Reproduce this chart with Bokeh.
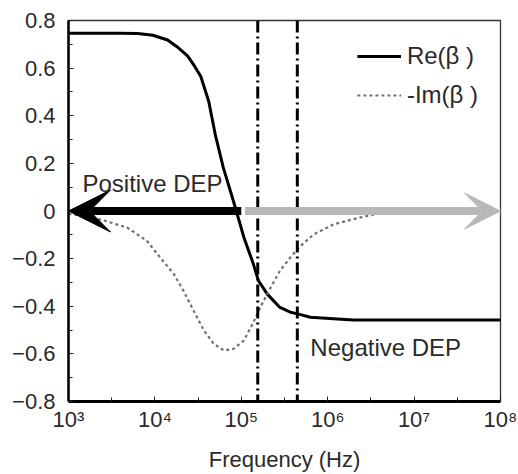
from bokeh.plotting import figure
from bokeh.models import (Arrow, VeeHead, Span, Label, Legend, LegendItem,
                          FixedTicker, SingleIntervalTicker)
from bokeh.embed import file_html
from bokeh.resources import INLINE

# ---- data ----
re_freq = [1e3, 4e3, 6.3e3, 9.5e3, 1.4e4, 1.8e4, 2.4e4, 2.8e4, 3.4e4, 4.2e4, 5.0e4,
           6.2e4, 8.1e4, 1.07e5, 1.38e5, 1.58e5, 2.0e5, 2.8e5, 3.7e5, 4.5e5, 6.3e5,
           1.17e6, 2e6, 1e8]
re_beta = [0.746, 0.746, 0.745, 0.738, 0.718, 0.69, 0.65, 0.615, 0.565, 0.46, 0.321,
           0.181, 0.042, -0.11, -0.223, -0.293, -0.349, -0.405, -0.425, -0.432, -0.446,
           -0.452, -0.458, -0.458]

im_freq = [1e3, 1.6e3, 2.7e3, 4.8e3, 8.1e3, 1.15e4, 1.66e4, 2.14e4, 2.8e4, 3.7e4,
           4.8e4, 6.3e4, 8.1e4, 1.07e5, 1.35e5, 1.74e5, 2.19e5, 2.8e5, 3.7e5, 4.9e5,
           6.9e5, 1.17e6, 2.2e6, 3.7e6, 1e7, 3.2e7]
im_beta = [-0.012, -0.022, -0.042, -0.07, -0.126, -0.195, -0.265, -0.335, -0.418, -0.502,
           -0.558, -0.586, -0.579, -0.544, -0.475, -0.39, -0.321, -0.251, -0.195, -0.146,
           -0.098, -0.056, -0.03, -0.012, -0.004, -0.001]

crossover_freqs = [1.55e5, 4.45e5]
arrow_split = 1.0e5
x_ticks = [1e3, 1e4, 1e5, 1e6, 1e7, 1e8]
x_tick_labels = ["10³", "10⁴", "10⁵", "10⁶", "10⁷", "10⁸"]
x_minor = [3.16e3, 3.16e4, 3.16e5, 3.16e6, 3.16e7]
pos_label = ("Positive DEP", 1.45e3, 0.117)
neg_label = ("Negative DEP", 6.3e5, -0.573)

FONT = "Liberation Sans"
TXT = "#2a2a2a"

p = figure(width=518, height=474, x_axis_type="log",
           x_range=(1e3, 1e8), y_range=(-0.8, 0.8),
           output_backend="svg", toolbar_location=None,
           min_border_left=68, min_border_right=18,
           min_border_top=20, min_border_bottom=71)
p.background_fill_color = "white"
p.border_fill_color = "white"
p.grid.visible = False
p.outline_line_color = "#333333"
p.outline_line_width = 1.3

# axes
p.xaxis.ticker = FixedTicker(ticks=x_ticks, minor_ticks=x_minor)
p.xaxis.major_label_overrides = {t: l for t, l in zip(x_ticks, x_tick_labels)}
p.yaxis.ticker = SingleIntervalTicker(interval=0.2, num_minor_ticks=2)
p.yaxis.major_label_overrides = {0: "0"}
for ax in (p.xaxis[0], p.yaxis[0]):
    ax.axis_line_color = "black"
    ax.major_tick_in = 5
    ax.major_tick_out = 0
    ax.minor_tick_in = 4
    ax.minor_tick_out = 0
    ax.major_tick_line_color = "#222222"
    ax.minor_tick_line_color = "#222222"
    ax.major_label_text_font = FONT
    ax.major_label_text_font_size = "22px"
    ax.major_label_text_color = TXT
p.xaxis.axis_line_width = 3
p.yaxis.axis_line_width = 2.5
p.xaxis.major_label_standoff = 5
p.yaxis.major_label_standoff = 13
p.xaxis.axis_label = "Frequency (Hz)"
p.xaxis.axis_label_text_font = FONT
p.xaxis.axis_label_text_font_size = "22px"
p.xaxis.axis_label_text_font_style = "normal"
p.xaxis.axis_label_text_color = TXT
p.xaxis.axis_label_standoff = 12

# curves
r_re = p.line(re_freq, re_beta, line_color="black", line_width=3)
r_im = p.line(im_freq, im_beta, line_color="#707070", line_width=2.2, line_dash="3 3")

# crossover lines
for f in crossover_freqs:
    p.add_layout(Span(location=f, dimension="height", line_color="black",
                      line_width=3, line_dash="12 4 2 4"))

# DEP arrows
p.add_layout(Arrow(x_start=arrow_split, y_start=0, x_end=x_ticks[0], y_end=0,
                   line_color="black", line_width=8,
                   end=VeeHead(size=42, fill_color="black", line_color="black")))
p.add_layout(Arrow(x_start=arrow_split * 1.1, y_start=0, x_end=x_ticks[-1], y_end=0,
                   line_color="#b8b8b8", line_width=8,
                   end=VeeHead(size=36, fill_color="#b8b8b8", line_color="#b8b8b8")))

for txt, xx, yy in (pos_label, neg_label):
    p.add_layout(Label(x=xx, y=yy, text=txt, text_font=FONT, text_font_size="24px",
                       text_color=TXT, text_baseline="middle", text_align="left"))

legend = Legend(items=[LegendItem(label="Re(β )", renderers=[r_re]),
                       LegendItem(label="-Im(β )", renderers=[r_im])],
                location="top_right", margin=18, padding=4, spacing=11,
                glyph_width=44, glyph_height=26, label_height=26,
                label_standoff=6, border_line_alpha=0, background_fill_alpha=0,
                label_text_font=FONT, label_text_font_size="24px",
                label_text_color=TXT)
p.add_layout(legend)

open("out.html", "w").write(file_html(p, INLINE))
